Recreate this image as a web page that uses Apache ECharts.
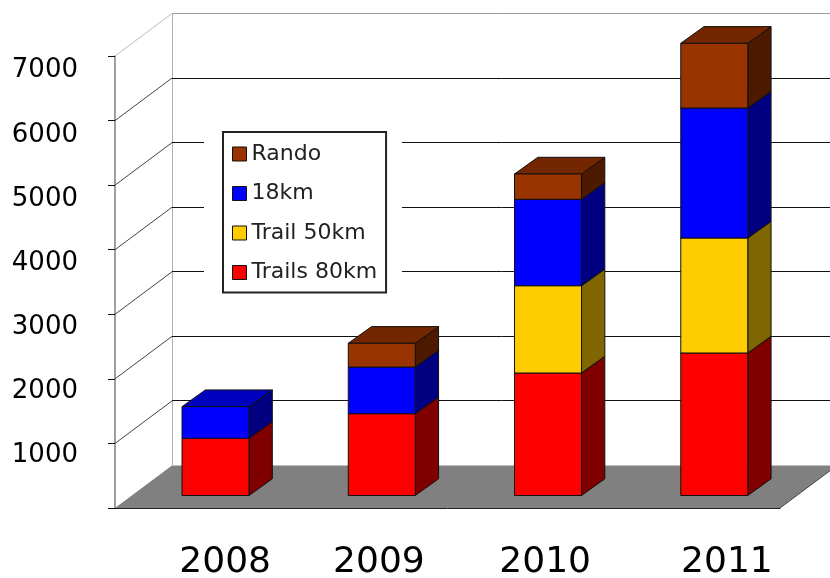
<!DOCTYPE html>
<html>
<head>
<meta charset="utf-8">
<style>html,body{margin:0;padding:0;background:#fff}#c{width:830px;height:578px}</style>
<script src="https://cdn.jsdelivr.net/npm/echarts@6/dist/echarts.min.js"></script>
</head>
<body>
<div id="c"></div>
<script>
var categories = ['2008', '2009', '2010', '2011'];
var trails80 = [886, 1267, 1897, 2207];
var trail50 = [null, null, 1352, 1781];
var km18 = [490, 723, 1338, 2013];
var rando = [null, 367, 392, 1002];
var yTicks = [1000, 2000, 3000, 4000, 5000, 6000, 7000];
var labelShift = [54, 29, 29, 60];
var yLabelDrop = [11.6, 12.1, 12.6, 13.2, 13.7, 14.2, 14.7];

var WALL_DX = 57, WALL_DY = 42.5;
var BAR_OX = 17.4, BAR_OY = 12.5, BAR_DX = 23.3, BAR_DY = 16.7;
var FONT = '"DejaVu Sans", Verdana, sans-serif';

function stackData(values, below) {
  return values.map(function (v, i) {
    var base = 0;
    below.forEach(function (b) { base += b[i] || 0; });
    return [i, base, base + (v || 0), v || 0];
  });
}
function crisp(v) { return Math.round(v) + 0.5; }

function barSeries(name, front, top, side, values, below) {
  return {
    name: name,
    type: 'custom',
    coordinateSystem: 'cartesian2d',
    itemStyle: { color: front },
    encode: { x: 0, y: 2 },
    clip: false,
    z: 3,
    data: stackData(values, below),
    renderItem: function (params, api) {
      if (!api.value(3)) return null;
      var cx = api.coord([api.value(0), 0])[0];
      var w = api.size([1, 0])[0] * 0.403;
      var y0 = api.coord([0, api.value(1)])[1] - BAR_OY;
      var y1 = api.coord([0, api.value(2)])[1] - BAR_OY;
      var x0 = cx - w / 2 + BAR_OX, x1 = cx + w / 2 + BAR_OX;
      function poly(pts, fill) {
        return { type: 'polygon', shape: { points: pts },
          style: { fill: fill, stroke: '#111', lineWidth: 1, lineJoin: 'round' } };
      }
      return { type: 'group', children: [
        poly([[x1, y0], [x1 + BAR_DX, y0 - BAR_DY], [x1 + BAR_DX, y1 - BAR_DY], [x1, y1]], side),
        poly([[x0, y1], [x1, y1], [x1 + BAR_DX, y1 - BAR_DY], [x0 + BAR_DX, y1 - BAR_DY]], top),
        poly([[x0, y0], [x1, y0], [x1, y1], [x0, y1]], front)
      ] };
    }
  };
}

var yRich = {};
yLabelDrop.forEach(function (d, i) {
  yRich['t' + i] = { fontFamily: FONT, fontSize: 26, color: '#000', lineHeight: d * 2 };
});

var chart = echarts.init(document.getElementById('c'), null, { renderer: 'canvas' });
chart.setOption({
  animation: false,
  backgroundColor: '#fff',
  grid: { left: 115, right: 50, top: 56, bottom: 70, containLabel: false, outerBoundsMode: 'none' },
  xAxis: {
    type: 'category',
    data: categories,
    axisLine: { lineStyle: { color: '#222', width: 1 } },
    axisTick: { show: false },
    axisLabel: {
      interval: 0,
      margin: 37,
      color: '#000',
      fontFamily: FONT,
      fontSize: 36,
      formatter: function (v, i) { return '{s' + i + '|' + v + '}'; },
      rich: {
        s0: { fontFamily: FONT, fontSize: 36, padding: [0, 0, 0, labelShift[0]] },
        s1: { fontFamily: FONT, fontSize: 36, padding: [0, 0, 0, labelShift[1]] },
        s2: { fontFamily: FONT, fontSize: 36, padding: [0, 0, 0, labelShift[2]] },
        s3: { fontFamily: FONT, fontSize: 36, padding: [0, 0, 0, labelShift[3]] }
      }
    }
  },
  yAxis: {
    type: 'value',
    min: 0,
    max: 7000,
    interval: 1000,
    splitLine: { show: false },
    axisLine: { show: true, lineStyle: { color: '#808080', width: 1.5 } },
    axisTick: { show: true, length: 7, lineStyle: { color: '#111', width: 1 } },
    axisLabel: {
      margin: 37,
      color: '#000',
      fontFamily: FONT,
      fontSize: 26,
      verticalAlign: 'top',
      rich: yRich,
      formatter: function (v) {
        var i = yTicks.indexOf(v);
        return i < 0 ? '' : '{t' + i + '|' + v + '}';
      }
    }
  },
  legend: {
    left: 223,
    top: 132,
    orient: 'vertical',
    align: 'left',
    selectedMode: false,
    backgroundColor: '#fff',
    borderColor: '#222',
    borderWidth: 2,
    borderRadius: 0,
    padding: [11, 9, 9, 9],
    itemWidth: 14,
    itemHeight: 14,
    itemGap: 17.5,
    textStyle: { fontFamily: FONT, fontSize: 22, color: '#222' },
    data: [
      { name: 'Rando', icon: 'rect', itemStyle: { borderColor: '#111', borderWidth: 1 } },
      { name: '18km', icon: 'rect', itemStyle: { borderColor: '#111', borderWidth: 1 } },
      { name: 'Trail 50km', icon: 'rect', itemStyle: { borderColor: '#111', borderWidth: 1 } },
      { name: 'Trails 80km', icon: 'rect', itemStyle: { borderColor: '#111', borderWidth: 1 } }
    ]
  },
  graphic: [{
    type: 'rect',
    z: 2,
    shape: { x: 204, y: 122, width: 198, height: 180 },
    style: { fill: '#fff' }
  }],
  series: [
    {
      name: 'walls',
      type: 'custom',
      coordinateSystem: 'cartesian2d',
      silent: true,
      clip: false,
      z: 1,
      encode: { y: 1 },
      data: [[0, 7000]],
      renderItem: function (params, api) {
        var g = params.coordSys;
        var L = g.x, R = g.x + g.width, T = g.y, B = g.y + g.height;
        var bx = crisp(L + WALL_DX - 0.5);
        return { type: 'group', children: [
          { type: 'polygon', shape: { points: [[L, B], [R, B], [R + WALL_DX, B - WALL_DY], [L + WALL_DX, B - WALL_DY]] },
            style: { fill: '#808080' } },
          { type: 'line', shape: { x1: R, y1: B, x2: R + WALL_DX, y2: B - WALL_DY }, style: { stroke: '#444', lineWidth: 1 } },
          { type: 'line', shape: { x1: bx, y1: T - WALL_DY, x2: bx, y2: B - WALL_DY }, style: { stroke: '#b0b0b0', lineWidth: 1 } },
          { type: 'line', shape: { x1: bx, y1: crisp(T - WALL_DY - 0.5), x2: R + WALL_DX, y2: crisp(T - WALL_DY - 0.5) }, style: { stroke: '#999', lineWidth: 1 } },
          { type: 'line', shape: { x1: L, y1: T, x2: L + WALL_DX, y2: T - WALL_DY }, style: { stroke: '#bbb', lineWidth: 1 } }
        ] };
      }
    },
    {
      name: 'gridlines',
      type: 'custom',
      coordinateSystem: 'cartesian2d',
      silent: true,
      clip: false,
      z: 1,
      encode: { y: 0 },
      data: yTicks.slice(0, 6).map(function (v) { return [v]; }),
      renderItem: function (params, api) {
        var g = params.coordSys;
        var y = api.coord([0, api.value(0)])[1];
        var L = g.x, R = g.x + g.width;
        return { type: 'group', children: [
          { type: 'line', shape: { x1: L, y1: y, x2: L + WALL_DX, y2: y - WALL_DY }, style: { stroke: '#444', lineWidth: 1 } },
          { type: 'line', shape: { x1: L + WALL_DX, y1: crisp(y - WALL_DY - 0.5), x2: R + WALL_DX, y2: crisp(y - WALL_DY - 0.5) }, style: { stroke: '#111', lineWidth: 1 } }
        ] };
      }
    },
    barSeries('Trails 80km', '#ff0000', '#bf0000', '#800000', trails80, []),
    barSeries('Trail 50km', '#ffcc00', '#bf9900', '#806600', trail50, [trails80]),
    barSeries('18km', '#0000ff', '#0000bf', '#000080', km18, [trails80, trail50]),
    barSeries('Rando', '#993300', '#732600', '#4d1a00', rando, [trails80, trail50, km18])
  ]
});
</script>
</body>
</html>
